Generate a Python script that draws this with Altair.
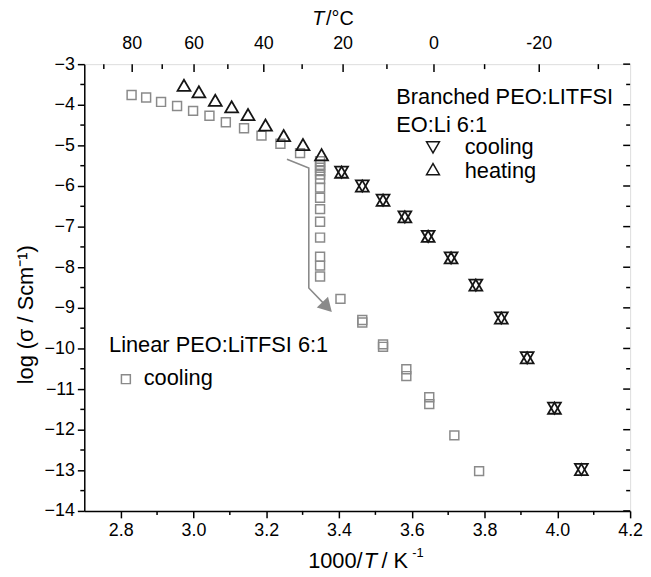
import altair as alt
import pandas as pd

# ---------------- data ----------------
# Linear PEO:LiTFSI 6:1, cooling (grey squares)
lin_x = [2.830, 2.870, 2.911, 2.955, 2.999, 3.044, 3.089, 3.139, 3.187, 3.239, 3.293,
         3.348, 3.348, 3.348, 3.348, 3.348, 3.348, 3.348, 3.348, 3.348, 3.348, 3.348,
         3.348, 3.348, 3.348,
         3.404, 3.464, 3.464, 3.521, 3.521, 3.585, 3.585, 3.648, 3.648, 3.717, 3.785]
lin_y = [-3.76, -3.82, -3.93, -4.03, -4.15, -4.27, -4.43, -4.58, -4.76, -4.96, -5.19,
         -5.39, -5.48, -5.55, -5.63, -5.72, -5.83, -6.04, -6.29, -6.57, -6.88, -7.27,
         -7.74, -7.96, -8.23,
         -8.78, -9.30, -9.36, -9.90, -9.96, -10.51, -10.68, -11.20, -11.37, -12.14, -13.02]

# Branched PEO:LiTFSI, EO:Li 6:1, heating (up triangles)
heat_x = [2.974, 3.015, 3.060, 3.105, 3.150, 3.198, 3.248, 3.301, 3.352,
          3.407, 3.464, 3.521, 3.581, 3.645, 3.708, 3.776, 3.846, 3.917, 3.992, 4.066]
heat_y = [-3.52, -3.68, -3.89, -4.05, -4.24, -4.50, -4.76, -4.98, -5.23,
          -5.66, -6.00, -6.35, -6.76, -7.24, -7.77, -8.44, -9.25, -10.23, -11.47, -12.98]

# Branched PEO:LiTFSI, cooling (down triangles)
cool_x = [3.407, 3.464, 3.521, 3.581, 3.645, 3.708, 3.776, 3.846, 3.917, 3.992, 4.066]
cool_y = [-5.66, -6.00, -6.35, -6.76, -7.24, -7.77, -8.44, -9.25, -10.23, -11.47, -12.98]

# arrow annotation path (data coordinates)
arrow_x = [3.257, 3.317, 3.317, 3.363]
arrow_y = [-5.34, -5.56, -8.51, -8.94]

# axis ticks
x_major = [2.8, 3.0, 3.2, 3.4, 3.6, 3.8, 4.0, 4.2]
x_minor = [2.9, 3.1, 3.3, 3.5, 3.7, 3.9, 4.1]
y_major = [-14, -13, -12, -11, -10, -9, -8, -7, -6, -5, -4, -3]
y_minor = [-13.5, -12.5, -11.5, -10.5, -9.5, -8.5, -7.5, -6.5, -5.5, -4.5, -3.5]
t_major = [80, 60, 40, 20, 0, -20]
t_major_labels = ["80", "60", "40", "20", "0", "-20"]
t_minor = [90, 70, 50, 30, 10, -10, -30]

# ---------------- chart ----------------
W, H = 551, 451
FONT = "Liberation Sans"
GREY = "#8a8a8a"
BLACK = "#151515"

xs = alt.Scale(domain=[2.7, 4.2], nice=False, zero=False)
ys = alt.Scale(domain=[-14, -3], nice=False, zero=False)

xaxis = alt.Axis(values=x_major, format=".1f", title=None, grid=False,
                 labelFontSize=18, labelFont=FONT, labelColor="black",
                 tickSize=7, tickWidth=1.5, tickColor="black", labelPadding=4,
                 domainColor="black", domainWidth=1.5, labelFlush=False)
yaxis = alt.Axis(values=y_major, format="d", title=None, grid=False,
                 labelFontSize=18, labelFont=FONT, labelColor="black",
                 tickSize=7, tickWidth=1.5, tickColor="black", labelPadding=3,
                 domainColor="black", domainWidth=1.5, labelFlush=False)


def X(f):
    return alt.X(f, type="quantitative", scale=xs, axis=xaxis)


def Y(f):
    return alt.Y(f, type="quantitative", scale=ys, axis=yaxis)


one = pd.DataFrame({"a": [0]})

lin_df = pd.DataFrame({"x": lin_x, "y": lin_y})
heat_df = pd.DataFrame({"x": heat_x, "y": heat_y})
cool_df = pd.DataFrame({"x": cool_x, "y": cool_y})
arrow_df = pd.DataFrame({"x": arrow_x, "y": arrow_y, "o": list(range(len(arrow_x)))})

lin = alt.Chart(lin_df).mark_point(shape="square", filled=False, size=81, stroke=GREY,
                                   strokeWidth=1.5, opacity=1).encode(x=X("x"), y=Y("y"))
heat = alt.Chart(heat_df).mark_point(shape="triangle-up", filled=False, size=169, stroke=BLACK,
                                     strokeWidth=1.8, opacity=1).encode(x=X("x"), y=Y("y"))
cool = alt.Chart(cool_df).mark_point(shape="triangle-down", filled=False, size=169, stroke=BLACK,
                                     strokeWidth=1.8, opacity=1).encode(x=X("x"), y=Y("y"))

arrow_line = alt.Chart(arrow_df).mark_line(color=GREY, strokeWidth=1.6).encode(
    x=X("x"), y=Y("y"), order="o:Q")
arrow_head = alt.Chart(arrow_df).transform_filter("datum.o == 3").mark_point(
    shape="triangle", filled=True, size=250, color=GREY, opacity=1, angle=136, strokeWidth=0
).encode(x=X("x"), y=Y("y"))

# minor / mirrored ticks
ymin_df = pd.DataFrame({"y": y_minor})
ymaj_df = pd.DataFrame({"y": y_major})
xmin_df = pd.DataFrame({"x": x_minor})
left_minor = alt.Chart(ymin_df).mark_rule(color="black", strokeWidth=1.5).encode(
    y=Y("y"), x=alt.value(0), x2=alt.value(-4))
right_major = alt.Chart(ymaj_df).mark_rule(color="black", strokeWidth=1.5).encode(
    y=Y("y"), x=alt.value(W), x2=alt.value(W - 7))
right_minor = alt.Chart(ymin_df).mark_rule(color="black", strokeWidth=1.5).encode(
    y=Y("y"), x=alt.value(W), x2=alt.value(W - 4))
bottom_minor = alt.Chart(xmin_df).mark_rule(color="black", strokeWidth=1.5).encode(
    x=X("x"), y=alt.value(H), y2=alt.value(H + 4))

# top temperature axis (nonlinear: 1000/T)
tmaj_df = pd.DataFrame({"t": t_major, "lab": t_major_labels})
tmin_df = pd.DataFrame({"t": t_minor})
top_major = alt.Chart(tmaj_df).transform_calculate(x="1000/(datum.t + 273.15)").mark_rule(
    color="black", strokeWidth=1.5).encode(x=X("x"), y=alt.value(0), y2=alt.value(8))
top_minor = alt.Chart(tmin_df).transform_calculate(x="1000/(datum.t + 273.15)").mark_rule(
    color="black", strokeWidth=1.5).encode(x=X("x"), y=alt.value(0), y2=alt.value(5))
top_labels = alt.Chart(tmaj_df).transform_calculate(x="1000/(datum.t + 273.15)").mark_text(
    font=FONT, fontSize=18, color="black", baseline="middle", align="center").encode(
    x=X("x"), y=alt.value(-20), text="lab:N")


def txt(s, x, y, size=22, align="left", baseline="alphabetic", style="normal", angle=0,
        color="black"):
    kw = dict(font=FONT, fontSize=size, align=align, baseline=baseline, color=color,
              fontStyle=style)
    if angle:
        kw["angle"] = angle
    return alt.Chart(one).mark_text(**kw).encode(
        x=alt.value(x), y=alt.value(y), text=alt.value(s))


def icon(shape, x, y, stroke, size, sw):
    return alt.Chart(one).mark_point(shape=shape, filled=False, size=size, stroke=stroke,
                                     strokeWidth=sw, opacity=1).encode(
        x=alt.value(x), y=alt.value(y))


annotations = [
    # branched legend
    txt("Branched PEO:LITFSI", 315, 40),
    txt("EO:Li 6:1", 315, 68),
    icon("triangle-down", 352, 84, BLACK, 169, 1.5),
    txt("cooling", 384, 91),
    icon("triangle-up", 352, 106, BLACK, 169, 1.5),
    txt("heating", 384, 115),
    # linear legend
    txt("Linear PEO:LiTFSI 6:1", 25, 291),
    icon("square", 42, 318, GREY, 81, 1.5),
    txt("cooling", 60, 324),
    # bottom axis title
    txt("1000/", 281, 509, align="right"),
    txt("T", 282, 509, style="italic"),
    txt("/ K", 300, 509),
    txt("-1", 331, 498, size=13),
    # top axis title
    txt("T", 230, -40, size=20, style="italic"),
    txt("/°C", 244, -40, size=20),
    # y title
    txt("log (σ / Scm⁻¹)", -59, 253, align="center", baseline="middle", angle=270),
]

chart = alt.layer(
    left_minor, right_major, right_minor, bottom_minor, top_major, top_minor, top_labels,
    arrow_line, arrow_head, lin, heat, cool, *annotations
).properties(
    width=W, height=H,
    autosize=alt.AutoSizeParams(type="none"),
    padding={"left": 77, "top": 54, "right": 13, "bottom": 62},
).configure_view(stroke="black", strokeWidth=1.5).configure(background="white")

chart.save("out.html", embed_options={"renderer": "svg", "actions": False})
